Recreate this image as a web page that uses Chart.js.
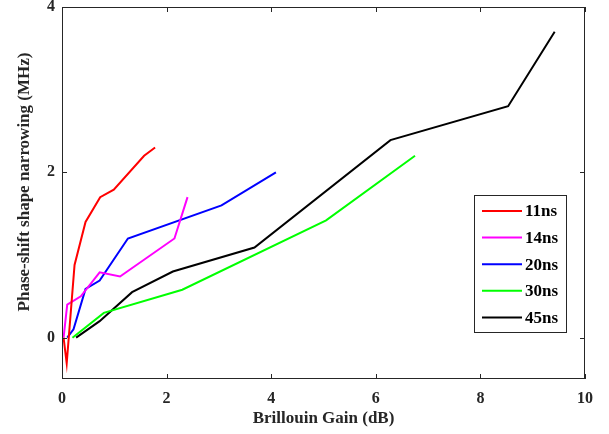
<!DOCTYPE html>
<html>
<head>
<meta charset="utf-8">
<script src="https://cdn.jsdelivr.net/npm/chart.js@4.4.1/dist/chart.umd.min.js"></script>
<style>
  html, body { margin: 0; padding: 0; background: #fff; }
</style>
</head>
<body>
<canvas id="gainChart" width="609" height="434"></canvas>
<script>
// valores
const seriesLabels = ['11ns', '14ns', '20ns', '30ns', '45ns'];
const seriesColors = ['#ff0000', '#ff00ff', '#0000ff', '#00ff00', '#000000'];

const gain11 = [0.03, 0.09, 0.24, 0.45, 0.73, 0.99, 1.57, 1.78];
const narrow11 = [0, -0.31, 0.88, 1.40, 1.70, 1.79, 2.20, 2.30];

const gain14 = [0.03, 0.10, 0.36, 0.72, 1.11, 2.15, 2.40];
const narrow14 = [0, 0.40, 0.50, 0.79, 0.74, 1.20, 1.70];

const gain20 = [0.10, 0.22, 0.45, 0.72, 1.26, 3.05, 4.09];
const narrow20 = [0, 0.10, 0.59, 0.69, 1.20, 1.60, 2.00];

const gain30 = [0.20, 0.80, 2.30, 5.05, 6.75];
const narrow30 = [0, 0.30, 0.58, 1.42, 2.20];

const gain45 = [0.27, 0.72, 1.34, 2.12, 3.68, 6.28, 8.53, 9.42];
const narrow45 = [0, 0.20, 0.55, 0.80, 1.09, 2.39, 2.80, 3.70];

const xTicks = [0, 2, 4, 6, 8, 10];
const yTicks = [0, 2, 4];

const gains = [gain11, gain14, gain20, gain30, gain45];
const narrows = [narrow11, narrow14, narrow20, narrow30, narrow45];

const FONT = "'Liberation Serif', 'Times New Roman', serif";
const AXIS_COLOR = '#262626';

// caixa, marcas internas, titulo do eixo y e legenda no estilo matlab
const boxPlugin = {
    id: 'boxPlugin',
    afterDraw(chart) {
        const c = chart.ctx;
        const a = chart.chartArea;
        const xs = chart.scales.x;
        const ys = chart.scales.y;
        c.save();
        c.strokeStyle = AXIS_COLOR;
        c.lineWidth = 1;
        c.strokeRect(a.left + 0.5, a.top + 0.5, a.right - a.left - 1, a.bottom - a.top - 1);
        c.beginPath();
        xTicks.forEach(function (v) {
            const px = Math.round(xs.getPixelForValue(v)) + 0.5;
            c.moveTo(px, a.bottom); c.lineTo(px, a.bottom - 5);
            c.moveTo(px, a.top); c.lineTo(px, a.top + 5);
        });
        yTicks.forEach(function (v) {
            const py = Math.round(ys.getPixelForValue(v)) + 0.5;
            c.moveTo(a.left, py); c.lineTo(a.left + 5, py);
            c.moveTo(a.right, py); c.lineTo(a.right - 5, py);
        });
        c.stroke();

        // titulo do eixo y (um pouco acima do centro, como no original)
        c.save();
        c.translate(25, 182);
        c.rotate(-Math.PI / 2);
        c.font = 'bold 17px ' + FONT;
        c.fillStyle = '#262626';
        c.textAlign = 'center';
        c.textBaseline = 'middle';
        c.fillText('Phase-shift shape narrowing (MHz)', 0, 0);
        c.restore();

        // legenda
        const lx = 474.5, ly = 195.5, lw = 92, lh = 137;
        c.fillStyle = '#fff';
        c.fillRect(lx, ly, lw, lh);
        c.strokeStyle = '#262626';
        c.strokeRect(lx, ly, lw, lh);
        c.font = 'bold 17px ' + FONT;
        c.textBaseline = 'middle';
        c.textAlign = 'left';
        chart.data.datasets.forEach(function (ds, i) {
            const y = 211 + i * 26.6;
            c.strokeStyle = ds.borderColor;
            c.lineWidth = 2;
            c.beginPath();
            c.moveTo(482, y); c.lineTo(522, y);
            c.stroke();
            c.fillStyle = '#000';
            c.fillText(ds.label, 525, y + 1);
        });
        c.restore();
    }
};

const ctx = document.getElementById('gainChart').getContext('2d');
const gainChart = new Chart(ctx, {
    type: 'line',
    data: {
        datasets: seriesLabels.map(function (lbl, i) {
            return {
                label: lbl,
                data: gains[i].map(function (g, j) { return { x: g, y: narrows[i][j] }; }),
                borderColor: seriesColors[i],
                backgroundColor: seriesColors[i],
                borderWidth: 2,
                pointRadius: 0,
                fill: false,
                tension: 0
            };
        })
    },
    options: {
        responsive: false,
        animation: false,
        layout: { padding: { top: 7, right: 24, left: 0, bottom: 0 } },
        plugins: {
            legend: { display: false },
            tooltip: { enabled: false }
        },
        scales: {
            x: {
                type: 'linear',
                min: 0,
                max: 10,
                grid: { display: false, drawTicks: false },
                border: { display: false },
                afterFit: function (s) { s.height = 55; s.paddingLeft = 0; s.paddingRight = 0; },
                afterBuildTicks: function (s) { s.ticks = xTicks.map(function (v) { return { value: v }; }); },
                ticks: {
                    padding: 10,
                    maxRotation: 0,
                    color: '#262626',
                    font: { family: FONT, size: 16, weight: 'bold' }
                },
                title: {
                    display: true,
                    text: 'Brillouin Gain (dB)',
                    color: '#262626',
                    padding: { top: 0, bottom: 5 },
                    font: { family: FONT, size: 17, weight: 'bold' }
                }
            },
            y: {
                min: -0.5,
                max: 4,
                grid: { display: false, drawTicks: false },
                border: { display: false },
                afterFit: function (s) { s.width = 62; s.paddingTop = 0; s.paddingBottom = 0; },
                afterBuildTicks: function (s) { s.ticks = yTicks.map(function (v) { return { value: v }; }); },
                ticks: {
                    padding: 7,
                    color: '#262626',
                    font: { family: FONT, size: 16, weight: 'bold' }
                },
                title: { display: false }
            }
        }
    },
    plugins: [boxPlugin]
});
</script>
</body>
</html>
